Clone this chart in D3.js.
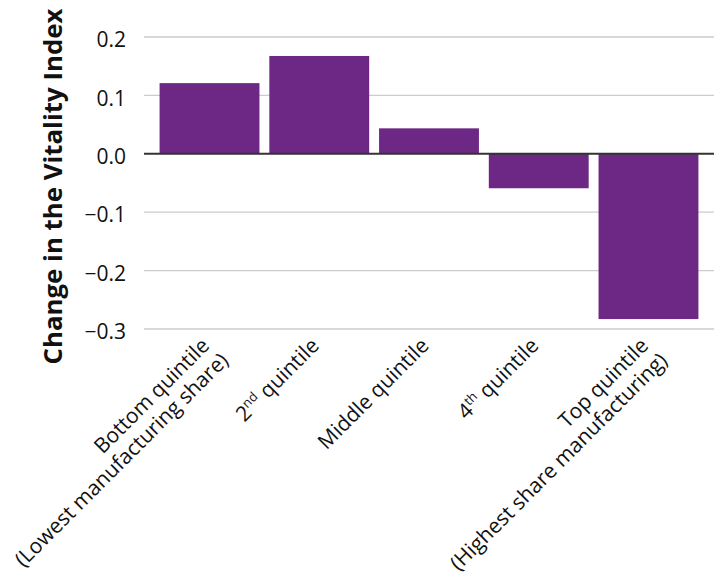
<!DOCTYPE html>
<html><head><meta charset="utf-8">
<script src="https://cdn.jsdelivr.net/npm/d3@7"></script>
<style>body{margin:0;background:#fff}svg{display:block}text{font-family:"Open Sans",sans-serif;fill:#111}</style>
</head><body>
<svg id="c" width="722" height="576"></svg>
<script>
const categories = ["Bottom quintile", "2nd quintile", "Middle quintile", "4th quintile", "Top quintile"];
const labelLines = [
  [[["Bottom quintile",""]], [["(Lowest manufacturing share)",""]]],
  [[["2",""],["nd","sup"],[" quintile",""]]],
  [[["Middle quintile",""]]],
  [[["4",""],["th","sup"],[" quintile",""]]],
  [[["Top quintile",""]], [["(Highest share manufacturing)",""]]]
];
const values = [0.121, 0.1675, 0.0436, -0.059, -0.283];
const yTicks = [0.2, 0.1, 0.0, -0.1, -0.2, -0.3];
const yTitle = "Change in the Vitality Index";

(function () {
const svg = d3.select("#c");
const left = 144, right = 714;
const y = d3.scaleLinear().domain([-0.3, 0.2]).range([329, 37]);
const x = d3.scaleBand().domain(categories).range([left, right]).paddingInner(0.09).paddingOuter(0.142);

const fmt = v => (v < 0 ? "\u2212" : "") + Math.abs(v).toFixed(1);

svg.append("g").selectAll("line").data(yTicks.filter(d => d !== 0)).join("line")
  .attr("x1", left).attr("x2", right).attr("y1", d => y(d)).attr("y2", d => y(d))
  .attr("stroke", "#cccccc").attr("stroke-width", 1.3);

const yAxis = d3.axisLeft(y).tickValues(yTicks).tickFormat(fmt).tickSize(0).tickPadding(0);
const ga = svg.append("g").attr("transform", `translate(126,0)`).call(yAxis);
ga.select(".domain").remove();
ga.selectAll("text").style("font-size", "21px").style("font-family", '"Open Sans",sans-serif').attr("fill", "#111").attr("dy", "0.46em");

svg.append("g").selectAll("rect").data(values).join("rect")
  .attr("x", (d, i) => x(categories[i])).attr("width", x.bandwidth())
  .attr("y", d => y(Math.max(0, d))).attr("height", d => Math.abs(y(d) - y(0)))
  .attr("fill", "#6d2784");

svg.append("line").attr("x1", left).attr("x2", right).attr("y1", y(0)).attr("y2", y(0))
  .attr("stroke", "#333").attr("stroke-width", 2);

svg.append("text").attr("transform", `translate(62,186.5) rotate(-90)`)
  .attr("text-anchor", "middle").style("font-size", "25.8px").style("font-weight", "bold").text(yTitle);

const lh = 24;
categories.forEach((c, i) => {
  const cx = x(c) + x.bandwidth() / 2;
  const t = svg.append("text").attr("transform", `translate(${cx + 1},${347}) rotate(-45)`)
    .attr("text-anchor", "end").style("font-size", "21px");
  labelLines[i].forEach((line, li) => {
    line.forEach((seg, si) => {
      const ts = t.append("tspan").text(seg[0]);
      if (si === 0) ts.attr("x", li === 0 ? 0 : 3).attr("y", li * lh);
      if (seg[1] === "sup") ts.style("font-size", "13px").attr("dy", "-8");
      else if (si > 0 && line[si - 1][1] === "sup") ts.attr("dy", "8");
    });
  });
});
})();
</script>
</body></html>
